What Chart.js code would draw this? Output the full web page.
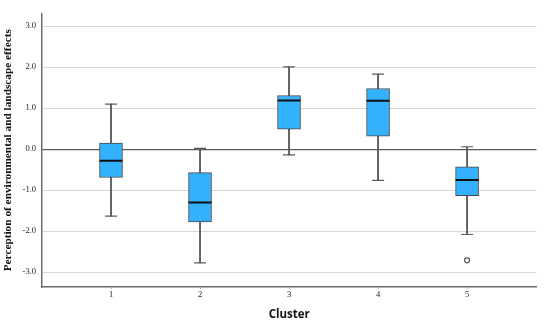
<!DOCTYPE html>
<html>
<head>
<meta charset="utf-8">
<script src="https://cdn.jsdelivr.net/npm/chart.js@4/dist/chart.umd.min.js"></script>
<style>
html, body { margin: 0; padding: 0; background: #fff; }
#wrap { width: 550px; height: 323px; }
</style>
</head>
<body>
<div id="wrap"><canvas id="c"></canvas></div>
<script>
// clusters and box statistics
var clusters = [1, 2, 3, 4, 5];
var whiskerLow  = [-1.63, -2.77, -0.14, -0.76, -2.08];
var q1          = [-0.69, -1.77,  0.49,  0.32, -1.13];
var median      = [-0.28, -1.30,  1.19,  1.18, -0.75];
var q3          = [ 0.15, -0.57,  1.31,  1.48, -0.43];
var whiskerHigh = [ 1.10,  0.02,  2.01,  1.83,  0.06];
var outliers    = [{ x: 5, y: -2.71 }];
var yTicks = [-3, -2, -1, 0, 1, 2, 3];

var boxData = clusters.map(function (c, i) { return { x: c, y: [q1[i], q3[i]] }; });
var whiskerData = clusters.map(function (c, i) { return { x: c, y: [whiskerLow[i], whiskerHigh[i]] }; });
var medianData = clusters.map(function (c, i) { return { x: c, y: median[i] }; });
var capData = [];
clusters.forEach(function (c, i) {
    capData.push({ x: c, y: whiskerLow[i] });
    capData.push({ x: c, y: whiskerHigh[i] });
});

var serif = "'Liberation Serif', 'DejaVu Serif', serif";
var axisGrey = '#6b6b6b';

new Chart(document.getElementById('c').getContext('2d'), {
    type: 'bar',
    data: {
        datasets: [
            {
                type: 'scatter',
                data: medianData,
                pointStyle: 'line',
                pointRadius: 11.5,
                pointHoverRadius: 11.5,
                borderColor: '#111',
                borderWidth: 2,
                order: 0
            },
            {
                type: 'scatter',
                data: outliers,
                pointStyle: 'circle',
                pointRadius: 2.5,
                pointHoverRadius: 2.5,
                borderColor: '#555',
                backgroundColor: '#fff',
                borderWidth: 1.2,
                order: 0
            },
            {
                type: 'scatter',
                data: capData,
                pointStyle: 'line',
                pointRadius: 6,
                pointHoverRadius: 6,
                borderColor: '#5a5a5a',
                borderWidth: 1.2,
                order: 1
            },
            {
                type: 'bar',
                data: boxData,
                grouped: false,
                barThickness: 23,
                backgroundColor: '#34b1fc',
                borderColor: '#4a4a4a',
                borderWidth: 1,
                borderSkipped: false,
                order: 2
            },
            {
                type: 'bar',
                data: whiskerData,
                grouped: false,
                barThickness: 1.2,
                backgroundColor: '#5a5a5a',
                borderWidth: 0,
                order: 3
            }
        ]
    },
    options: {
        responsive: true,
        maintainAspectRatio: false,
        animation: false,
        layout: { padding: { top: 6, right: 5, left: 1, bottom: 0 } },
        plugins: {
            legend: { display: false },
            tooltip: { enabled: false }
        },
        scales: {
            x: {
                type: 'linear',
                min: 0.225,
                max: 5.78,
                offset: false,
                afterBuildTicks: function (axis) {
                    axis.ticks = clusters.map(function (v) { return { value: v }; });
                },
                grid: { display: true, offset: false, drawOnChartArea: false, drawTicks: true, tickLength: 2, color: '#bbb' },
                border: { display: true, color: axisGrey, width: 1.5 },
                ticks: {
                    color: '#222',
                    font: { family: serif, size: 8.5 },
                    padding: 1,
                    callback: function (v) { return String(v); }
                },
                title: {
                    display: true,
                    text: 'Cluster',
                    color: '#111',
                    font: { family: "'Open Sans', 'Liberation Sans', sans-serif", size: 11.5, weight: 'bold' },
                    padding: { top: 7, bottom: 1 }
                }
            },
            y: {
                min: -3.36,
                max: 3.31,
                afterBuildTicks: function (axis) {
                    axis.ticks = yTicks.map(function (v) { return { value: v }; });
                },
                grid: {
                    drawTicks: false,
                    color: function (ctx) { return ctx.tick && ctx.tick.value === 0 ? '#5a5a5a' : '#d6d6d6'; },
                    lineWidth: function (ctx) { return ctx.tick && ctx.tick.value === 0 ? 1.2 : 1; }
                },
                border: { display: true, color: axisGrey, width: 1.5 },
                ticks: {
                    color: '#222',
                    font: { family: serif, size: 8.5 },
                    padding: 6,
                    callback: function (v) { return v.toFixed(1); }
                },
                title: {
                    display: true,
                    text: 'Perception of environmental and landscape effects',
                    color: '#111',
                    font: { family: serif, size: 11.3, weight: 'bold' },
                    padding: { top: 0, bottom: 2 }
                }
            }
        }
    }
});
</script>
</body>
</html>
